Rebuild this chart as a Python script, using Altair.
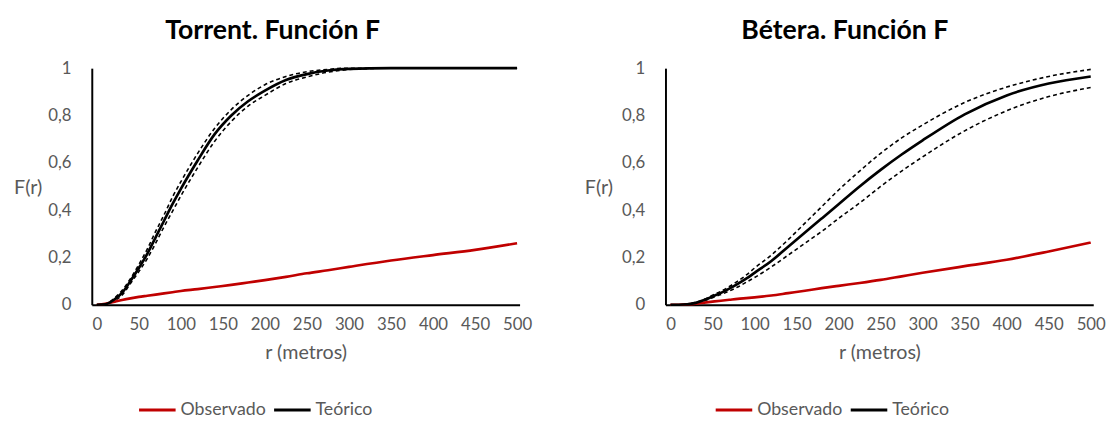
import altair as alt
import pandas as pd

r = [0, 10, 20, 30, 40, 50, 60, 70, 80, 90, 100, 120, 140, 160, 180, 200,
     225, 250, 275, 300, 350, 400, 450, 500]

# Torrent
t_obs = [0, 0.004, 0.012, 0.02, 0.027, 0.033, 0.038, 0.043, 0.048, 0.053, 0.058,
         0.066, 0.075, 0.084, 0.094, 0.104, 0.118, 0.133, 0.146, 0.16, 0.187,
         0.21, 0.232, 0.26]
t_teo = [0, 0.002, 0.02, 0.05, 0.10, 0.155, 0.215, 0.285, 0.355, 0.425, 0.49,
         0.61, 0.72, 0.80, 0.86, 0.905, 0.95, 0.975, 0.99, 0.997, 1, 1, 1, 1]
t_sup = [0, 0.003, 0.025, 0.06, 0.11, 0.17, 0.235, 0.31, 0.38, 0.455, 0.52,
         0.64, 0.745, 0.825, 0.885, 0.93, 0.965, 0.985, 0.995, 1, 1, 1, 1, 1]
t_inf = [0, 0.001, 0.015, 0.04, 0.09, 0.14, 0.195, 0.26, 0.33, 0.395, 0.46,
         0.58, 0.69, 0.775, 0.84, 0.885, 0.935, 0.963, 0.983, 0.994, 1, 1, 1, 1]

# Bétera
b_obs = [0, 0, 0.002, 0.005, 0.009, 0.013, 0.017, 0.021, 0.025, 0.028, 0.031,
         0.039, 0.049, 0.059, 0.07, 0.08, 0.092, 0.105, 0.12, 0.135, 0.163,
         0.19, 0.225, 0.263]
b_teo = [0, 0, 0.002, 0.008, 0.02, 0.035, 0.05, 0.068, 0.088, 0.11, 0.135,
         0.185, 0.245, 0.305, 0.365, 0.425, 0.5, 0.57, 0.635, 0.695, 0.805,
         0.885, 0.935, 0.965]
b_sup = [0, 0, 0.003, 0.01, 0.023, 0.04, 0.057, 0.077, 0.1, 0.125, 0.155,
         0.21, 0.275, 0.345, 0.415, 0.485, 0.565, 0.64, 0.705, 0.76, 0.855,
         0.92, 0.965, 0.995]
b_inf = [0, 0, 0.001, 0.006, 0.017, 0.03, 0.043, 0.058, 0.075, 0.095, 0.115,
         0.16, 0.21, 0.26, 0.31, 0.365, 0.43, 0.5, 0.565, 0.625, 0.735,
         0.82, 0.88, 0.918]

x_ticks = [0, 50, 100, 150, 200, 250, 300, 350, 400, 450, 500]
y_ticks = [0, 0.2, 0.4, 0.6, 0.8, 1]
series = ["Observado", "Teórico"]
colors = ["#C00000", "#000000"]

FONT = "Lato"


def panel(title, obs, teo, sup, inf, lx, ytx):
    main = pd.DataFrame({
        "r": r * 2,
        "F": obs + teo,
        "serie": [series[0]] * len(r) + [series[1]] * len(r),
    })
    env = pd.DataFrame({
        "r": r * 2,
        "F": sup + inf,
        "banda": ["sup"] * len(r) + ["inf"] * len(r),
    })
    xenc = alt.X("r:Q", scale=alt.Scale(domain=[-6, 503], nice=False, zero=False),
                 axis=alt.Axis(values=x_ticks, title="r (metros)", labelPadding=12,
                               titlePadding=11, labelFlush=False))
    yenc = alt.Y("F:Q", scale=alt.Scale(domain=[0, 1], nice=False),
                 axis=alt.Axis(values=y_ticks, title="F(r)", titleAngle=0,
                               titleX=ytx, titleY=121, titleAlign="center",
                               titleBaseline="middle", labelPadding=21,
                               labelExpr="replace(format(datum.value, '~g'), '.', ',')"))
    dashed = alt.Chart(env).mark_line(color="black", strokeWidth=1.6,
                                      strokeDash=[4, 3], interpolate="monotone").encode(
        x=xenc, y=yenc, detail="banda:N")
    solid = alt.Chart(main).mark_line(strokeWidth=2.7, interpolate="monotone").encode(
        x=xenc, y=yenc,
        color=alt.Color("serie:N", scale=alt.Scale(domain=series, range=colors),
                        legend=alt.Legend(title=None, orient="none", legendX=lx,
                                          legendY=326, direction="horizontal",
                                          symbolType="stroke", symbolSize=1375,
                                          symbolStrokeWidth=3, labelFontSize=18,
                                          labelColor="#595959", labelFont=FONT,
                                          labelOffset=3, columnPadding=1)))
    return alt.layer(dashed, solid).properties(
        width=434, height=240,
        title=alt.TitleParams(title, fontSize=27, font=FONT, fontWeight="bold",
                              color="black", anchor="middle", frame="bounds",
                              offset=15))


left = panel("Torrent. Función F", t_obs, t_teo, t_sup, t_inf, 46, -65)
right = panel("Bétera. Función F", b_obs, b_teo, b_sup, b_inf, 49, -68)

chart = alt.hconcat(left, right, spacing=52, background="white").resolve_scale(
    color="independent"
).configure_axis(
    grid=False, ticks=False, domainColor="black", domainWidth=2,
    labelColor="#595959", labelFontSize=17, labelFont=FONT,
    titleColor="#595959", titleFontSize=20, titleFont=FONT, titleFontWeight="normal"
).configure_view(stroke="transparent")

chart.save("out.html", embed_options={"renderer": "svg", "actions": False})
